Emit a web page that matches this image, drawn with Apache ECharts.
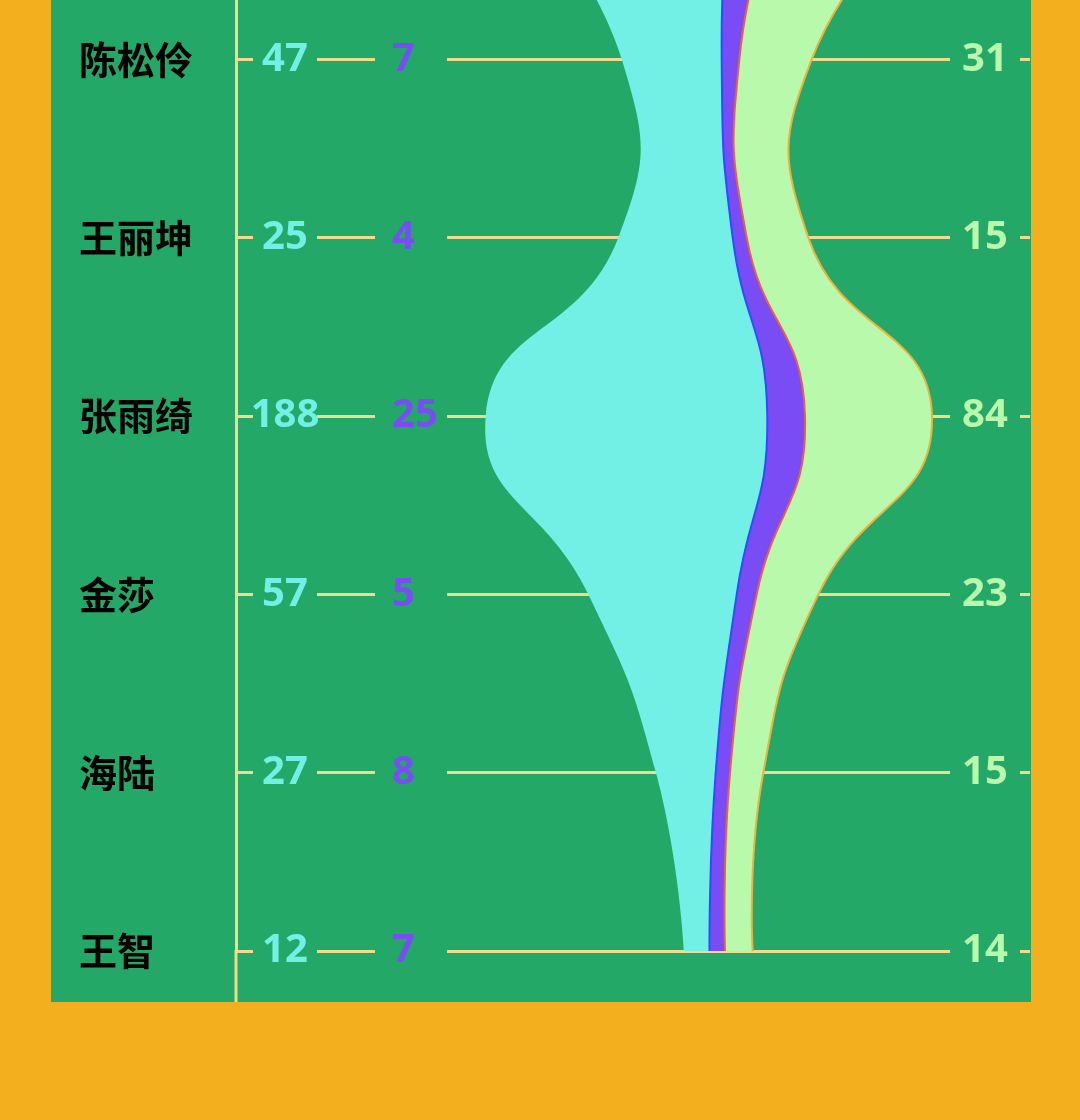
<!DOCTYPE html>
<html><head><meta charset="utf-8">
<script src="https://cdn.jsdelivr.net/npm/echarts@6/dist/echarts.min.js"></script>
<style>html,body{margin:0;padding:0;background:#f3af1d}#c{width:1080px;height:1120px}</style>
</head><body><div id="c"></div>
<script>
// categories (the first one lies above the visible crop)
const categories = ['', '陈松伶', '王丽坤', '张雨绮', '金莎', '海陆', '王智'];
// printed values per row
const leftValues  = [null, 47, 25, 188, 57, 27, 12];
const midValues   = [null, 7, 4, 25, 5, 8, 7];
const rightValues = [null, 31, 15, 84, 23, 15, 14];
// stream band widths (axis units)
const streamOffset = [273, 385.7, 382.3, 249.7, 352.3, 420, 448];
const streamCyan   = [220, 100, 114.4, 281.6, 148.4, 59.7, 25.5];
const streamPurple = [53, 17.6, 14, 37.7, 20, 14.3, 15.5];
const streamGreen  = [163, 72.4, 61.6, 127, 61.6, 33.3, 27.7];

const FONT_CJK = "'Noto Sans CJK SC', sans-serif";
const FONT_NUM = "'Noto Sans', 'Noto Sans CJK SC', sans-serif";
const GREEN_BG = '#23a867';
const LINE = '#efdc8e';
const CYAN = '#72f0e6', PURPLE = '#7a4cf5', LIGHT = '#b9f9ab';
const BAND_FILL = [CYAN, PURPLE, LIGHT];
const BAND_STROKE = ['#2a4fff', '#f05a50', '#efb13c'];

// stacked edges of the stream (offset, +cyan, +purple, +green)
const edges = [streamOffset.slice()];
[streamCyan, streamPurple, streamGreen].forEach((arr, k) => {
  edges.push(edges[k].map((v, i) => v + arr[i]));
});

function controls(pts) {
  const S = 0.5, n = pts.length, cin = [], cout = [];
  for (let i = 0; i < n; i++) {
    const p = pts[i];
    if (i === 0 || i === n - 1) { cin[i] = p; cout[i] = p; continue; }
    const a = pts[i - 1], b = pts[i + 1];
    const vx = b[0] - a[0], vy = b[1] - a[1];
    const d0 = Math.hypot(p[0] - a[0], p[1] - a[1]);
    const d1 = Math.hypot(b[0] - p[0], b[1] - p[1]);
    const r = d1 / (d0 + d1);
    cin[i] = [p[0] - vx * S * (1 - r), p[1] - vy * S * (1 - r)];
    cout[i] = [p[0] + vx * S * r, p[1] + vy * S * r];
  }
  return { cin, cout };
}
const f = n => n.toFixed(2);
function forward(pts, withMove) {
  const { cin, cout } = controls(pts);
  let d = (withMove ? 'M' : 'L') + f(pts[0][0]) + ',' + f(pts[0][1]);
  for (let i = 0; i < pts.length - 1; i++) {
    d += ' C' + f(cout[i][0]) + ',' + f(cout[i][1]) + ' ' + f(cin[i + 1][0]) + ',' + f(cin[i + 1][1]) + ' ' + f(pts[i + 1][0]) + ',' + f(pts[i + 1][1]);
  }
  return d;
}
function backward(pts) {
  const { cin, cout } = controls(pts);
  const n = pts.length;
  let d = ' L' + f(pts[n - 1][0]) + ',' + f(pts[n - 1][1]);
  for (let i = n - 1; i > 0; i--) {
    d += ' C' + f(cin[i][0]) + ',' + f(cin[i][1]) + ' ' + f(cout[i - 1][0]) + ',' + f(cout[i - 1][1]) + ' ' + f(pts[i - 1][0]) + ',' + f(pts[i - 1][1]);
  }
  return d;
}
function edgePoints(api, k) {
  return edges[k].map((v, i) => api.coord([v, i]));
}

function labelSeries(name, values, anchor, label) {
  const data = [];
  values.forEach((v, i) => { if (v != null) data.push([anchor, i, v]); });
  return {
    name, type: 'scatter', symbolSize: 0, silent: true, z: 6,
    itemStyle: { color: GREEN_BG, opacity: 1 },
    data,
    label: Object.assign({
      show: true, position: 'right', distance: 0, opacity: 1,
      formatter: p => String(p.value[2]),
      fontSize: 40, fontWeight: 'bold', fontFamily: FONT_NUM,
      backgroundColor: GREEN_BG, lineHeight: 46,
      textBorderWidth: 0
    }, label)
  };
}

const chart = echarts.init(document.getElementById('c'));
chart.setOption({
  backgroundColor: '#f3af1d',
  animation: false,
  graphic: [
    { type: 'rect', z: -10, silent: true, shape: { x: 51, y: 0, width: 980, height: 1002 }, style: { fill: GREEN_BG } },
    { type: 'line', z: 1, silent: true, shape: { x1: 236, y1: 950, x2: 236, y2: 1002 }, style: { stroke: LINE, lineWidth: 3 } }
  ],
  grid: { left: 236, right: 50, top: -119, bottom: 169, outerBoundsMode: 'none', containLabel: false },
  xAxis: { type: 'value', min: 0, max: 794, show: false },
  yAxis: {
    type: 'category', data: categories, inverse: true, boundaryGap: false,
    axisLine: { show: true, lineStyle: { color: LINE, width: 3 } },
    axisTick: { show: false },
    axisLabel: { color: '#000', fontSize: 38, fontWeight: 'bold', fontFamily: FONT_CJK, align: 'left', margin: 157, padding: [0, 0, 5, 0] },
    splitLine: { show: true, lineStyle: { color: LINE, width: 3 } }
  },
  series: [
    {
      name: 'bands', type: 'custom', silent: true, clip: false, z: 2,
      data: [[0, 0], [1, 0], [2, 0]],
      renderItem: (params, api) => {
        const k = api.value(0);
        const left = edgePoints(api, k), right = edgePoints(api, k + 1);
        return { type: 'path', shape: { pathData: forward(left, true) + backward(right) + ' Z' }, style: { fill: BAND_FILL[k], stroke: null } };
      }
    },
    {
      name: 'bandEdges', type: 'custom', silent: true, clip: false, z: 3,
      data: [[0, 0], [1, 0], [2, 0]],
      renderItem: (params, api) => {
        const k = api.value(0);
        return { type: 'path', shape: { pathData: forward(edgePoints(api, k + 1), true) }, style: { fill: 'none', stroke: BAND_STROKE[k], lineWidth: 2 } };
      }
    },
    labelSeries('leftLabels', leftValues, 49, { color: CYAN, width: 52, padding: [0, 6], align: 'center' }),
    labelSeries('midLabels', midValues, 139, { color: PURPLE, width: 55, padding: [0, 0, 0, 17], align: 'left' }),
    labelSeries('rightLabels', rightValues, 749, { color: LIGHT, width: 58, padding: [0, 6], align: 'center' })
  ]
});
</script></body></html>
